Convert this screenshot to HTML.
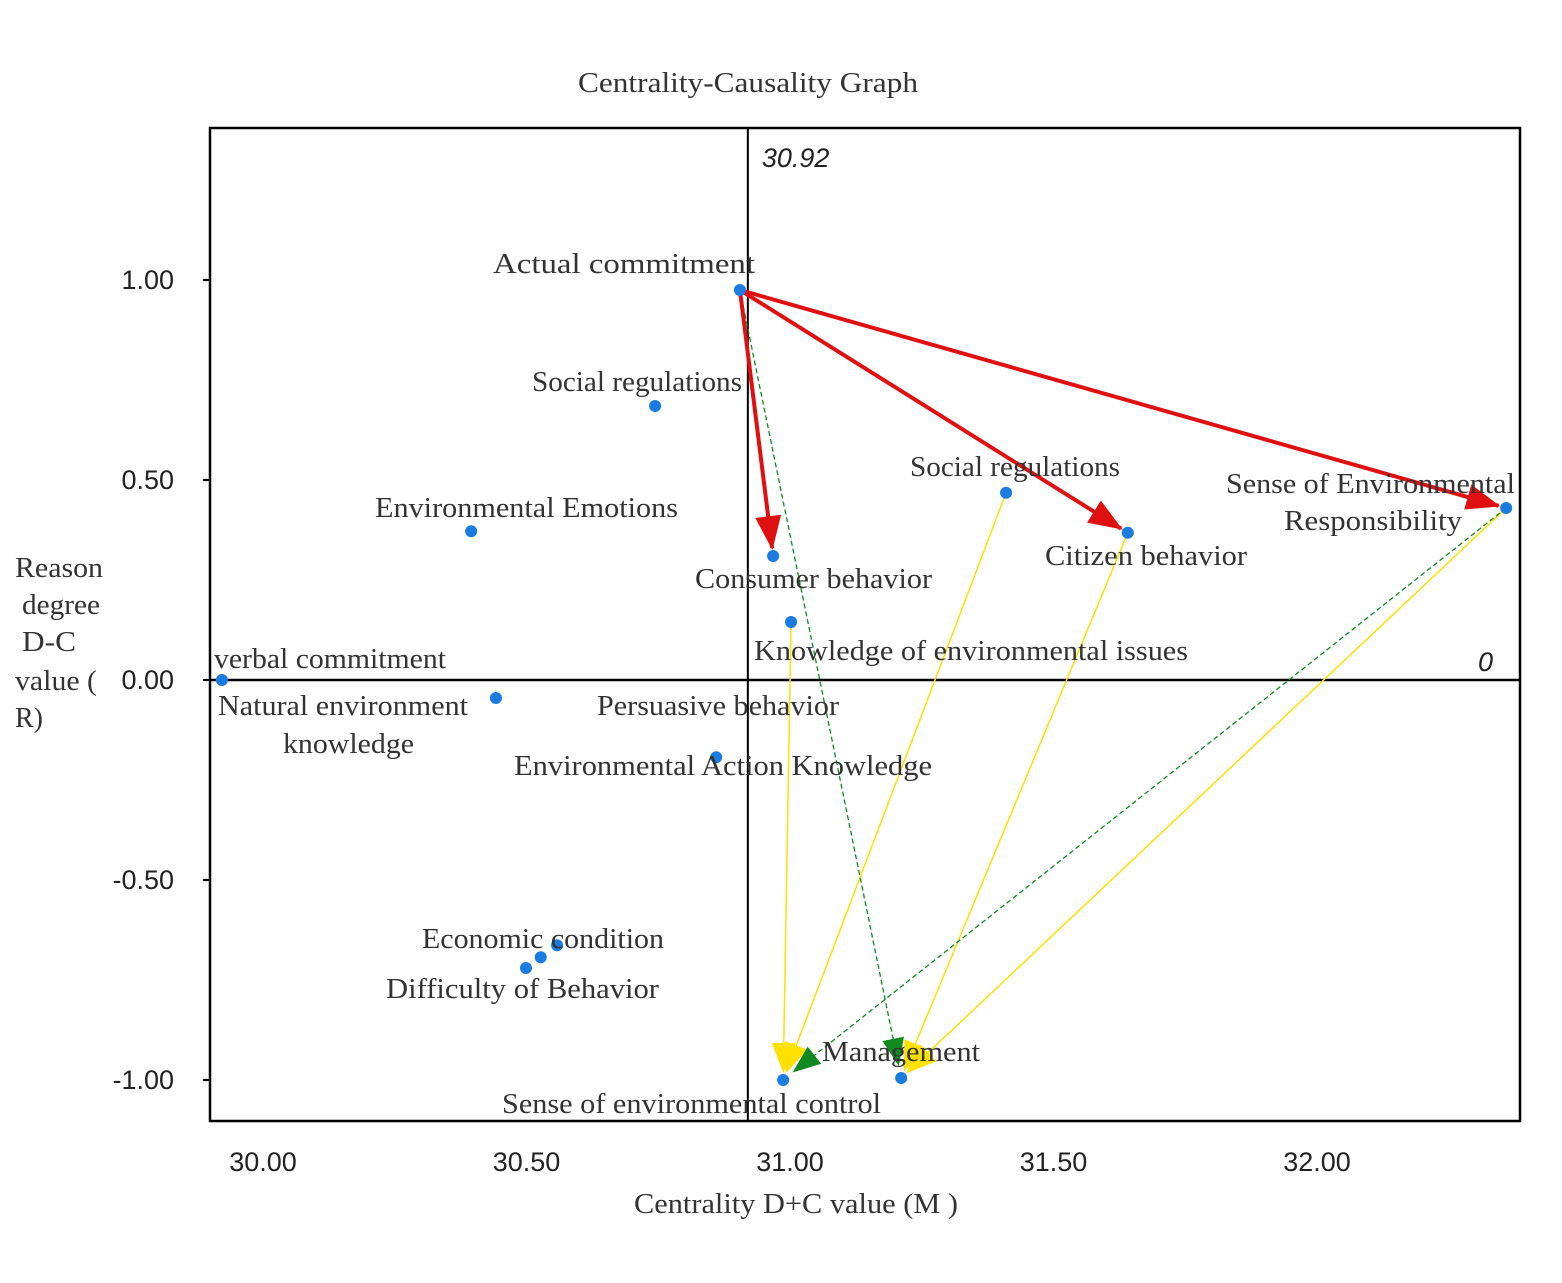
<!DOCTYPE html>
<html><head><meta charset="utf-8"><style>
body{margin:0;background:#fff}
svg{display:block}
.lbl{font-family:"Liberation Serif",serif;font-size:28px;fill:#333}
.tick{font-family:"Liberation Sans",sans-serif;font-size:27px;fill:#222}
</style></head><body>
<svg id="chart" width="1562" height="1283">
<defs>
<marker id="mr" markerWidth="34" markerHeight="26" refX="32" refY="13" orient="auto" markerUnits="userSpaceOnUse" viewBox="0 0 34 26"><path d="M0,0L34,13L0,26z" fill="#e01010"/></marker>
<marker id="my" markerWidth="30" markerHeight="24" refX="28" refY="12" orient="auto" markerUnits="userSpaceOnUse" viewBox="0 0 30 24"><path d="M0,0L30,12L0,24z" fill="#ffe000"/></marker>
<marker id="mg" markerWidth="28" markerHeight="22" refX="26" refY="11" orient="auto" markerUnits="userSpaceOnUse" viewBox="0 0 28 22"><path d="M0,0L28,11L0,22z" fill="#108a20"/></marker>
</defs>
<text x="578" y="92" textLength="340" lengthAdjust="spacingAndGlyphs" class="lbl">Centrality-Causality Graph</text>
<rect x="210" y="128" width="1310" height="993" fill="none" stroke="#000" stroke-width="2.5"/>
<g id="g"></g>
<text x="634" y="1213" textLength="324" lengthAdjust="spacingAndGlyphs" class="lbl">Centrality D+C value (M )</text>
<g class="lbl">
<text x="15" y="577" textLength="88" lengthAdjust="spacingAndGlyphs">Reason</text>
<text x="22" y="614" textLength="78" lengthAdjust="spacingAndGlyphs">degree</text>
<text x="22" y="651" textLength="54" lengthAdjust="spacingAndGlyphs">D-C</text>
<text x="15" y="690" textLength="82" lengthAdjust="spacingAndGlyphs">value (</text>
<text x="15" y="727">R)</text>
</g>
</svg>
<script>
const xTicks=[30.0,30.5,31.0,31.5,32.0];
const yTicks=[1.0,0.5,0.0,-0.5,-1.0];
const names=["Actual commitment","Social regulations","Environmental Emotions","Consumer behavior","Knowledge of environmental issues","Social regulations","Citizen behavior","Sense of Environmental Responsibility","verbal commitment","Natural environment knowledge","Environmental Action Knowledge","Economic condition","Intermediate factor","Difficulty of Behavior","Sense of environmental control","Management"];
const mVals=[30.905,30.744,30.395,30.968,31.002,31.41,31.641,32.359,29.922,30.442,30.86,30.558,30.527,30.499,30.987,31.211];
const rVals=[0.975,0.685,0.372,0.31,0.145,0.468,0.368,0.43,0,-0.045,-0.193,-0.663,-0.693,-0.72,-1.0,-0.995];
const meanM=30.92;
const redLinks=[[0,3],[0,6],[0,7]];
const yellowLinks=[[5,14],[4,14],[6,15],[7,15]];
const greenLinks=[[0,15],[7,14]];
const X=v=>263+(v-30)*527, Y=v=>680-v*400;
const g=document.getElementById('g'),NS='http://www.w3.org/2000/svg';
function mk(t,a,p){const e=document.createElementNS(NS,t);for(const k in a)e.setAttribute(k,a[k]);(p||g).appendChild(e);return e;}
xTicks.forEach(v=>{const t=mk('text',{x:X(v),y:1171,'text-anchor':'middle',class:'tick'});t.textContent=v.toFixed(2);

});
yTicks.forEach(v=>{const t=mk('text',{x:174,y:Y(v)+9,'text-anchor':'end',class:'tick'});t.textContent=v.toFixed(2);


const l=mk('line',{x1:203,x2:210,y1:Y(v),y2:Y(v),stroke:'#000','stroke-width':2});

});
let vl=mk('line',{x1:X(meanM),x2:X(meanM),y1:128,y2:1121,stroke:'#000','stroke-width':2});


let hl=mk('line',{x1:210,x2:1520,y1:Y(0),y2:Y(0),stroke:'#000','stroke-width':2.5});


let t1=mk('text',{x:X(meanM)+14,y:167,class:'tick','font-style':'italic'});t1.textContent=meanM.toFixed(2);


let t0=mk('text',{x:1478,y:671,class:'tick','font-style':'italic'});t0.textContent='0';


function shorten(a,b,d){const dx=b[0]-a[0],dy=b[1]-a[1],L=Math.hypot(dx,dy);return [b[0]-dx/L*d,b[1]-dy/L*d];}
function link(p,col,w,mkr,dash,name,gap){const a=[X(mVals[p[0]]),Y(rVals[p[0]])],b0=[X(mVals[p[1]]),Y(rVals[p[1]])];const b=shorten(a,b0,gap);
const attrs={x1:a[0],y1:a[1],x2:b[0],y2:b[1],stroke:col,'stroke-width':w,'marker-end':'url(#'+mkr+')'};if(dash)attrs['stroke-dasharray']=dash;
const l=mk('line',attrs);

}
yellowLinks.forEach(p=>link(p,'#ffe000',1.5,'my','','yellow-influence-arrow',9));
greenLinks.forEach(p=>link(p,'#108a20',1.3,'mg','5,3','green-influence-arrow',14));
redLinks.forEach(p=>link(p,'#e01010',4,'mr','','red-influence-arrow',8));
mVals.forEach((m,i)=>{const c=mk('circle',{cx:X(m),cy:Y(rVals[i]),r:6,fill:'#1a7be0'});

});
const labels=[["Actual commitment",493,273,262],["Social regulations",532,391,210],["Environmental Emotions",375,517,303],["Consumer behavior",695,588,237],["Knowledge of environmental issues",754,660,434],["Social regulations",910,476,210],["Citizen behavior",1045,565,202],["Sense of Environmental",1226,493,289],["Responsibility",1284,530,178],["verbal commitment",214,668,232],["Natural environment",218,715,250],["knowledge",283,753,131],["Persuasive behavior",597,715,242],["Environmental Action Knowledge",514,775,418],["Economic condition",422,948,242],["Difficulty of Behavior",386,998,273],["Management",822,1061,158],["Sense of environmental control",502,1113,379]];
labels.forEach(l=>{const t=mk('text',{x:l[1],y:l[2],class:'lbl',textLength:l[3],lengthAdjust:'spacingAndGlyphs'});t.textContent=l[0];

});
</script>
</body></html>
